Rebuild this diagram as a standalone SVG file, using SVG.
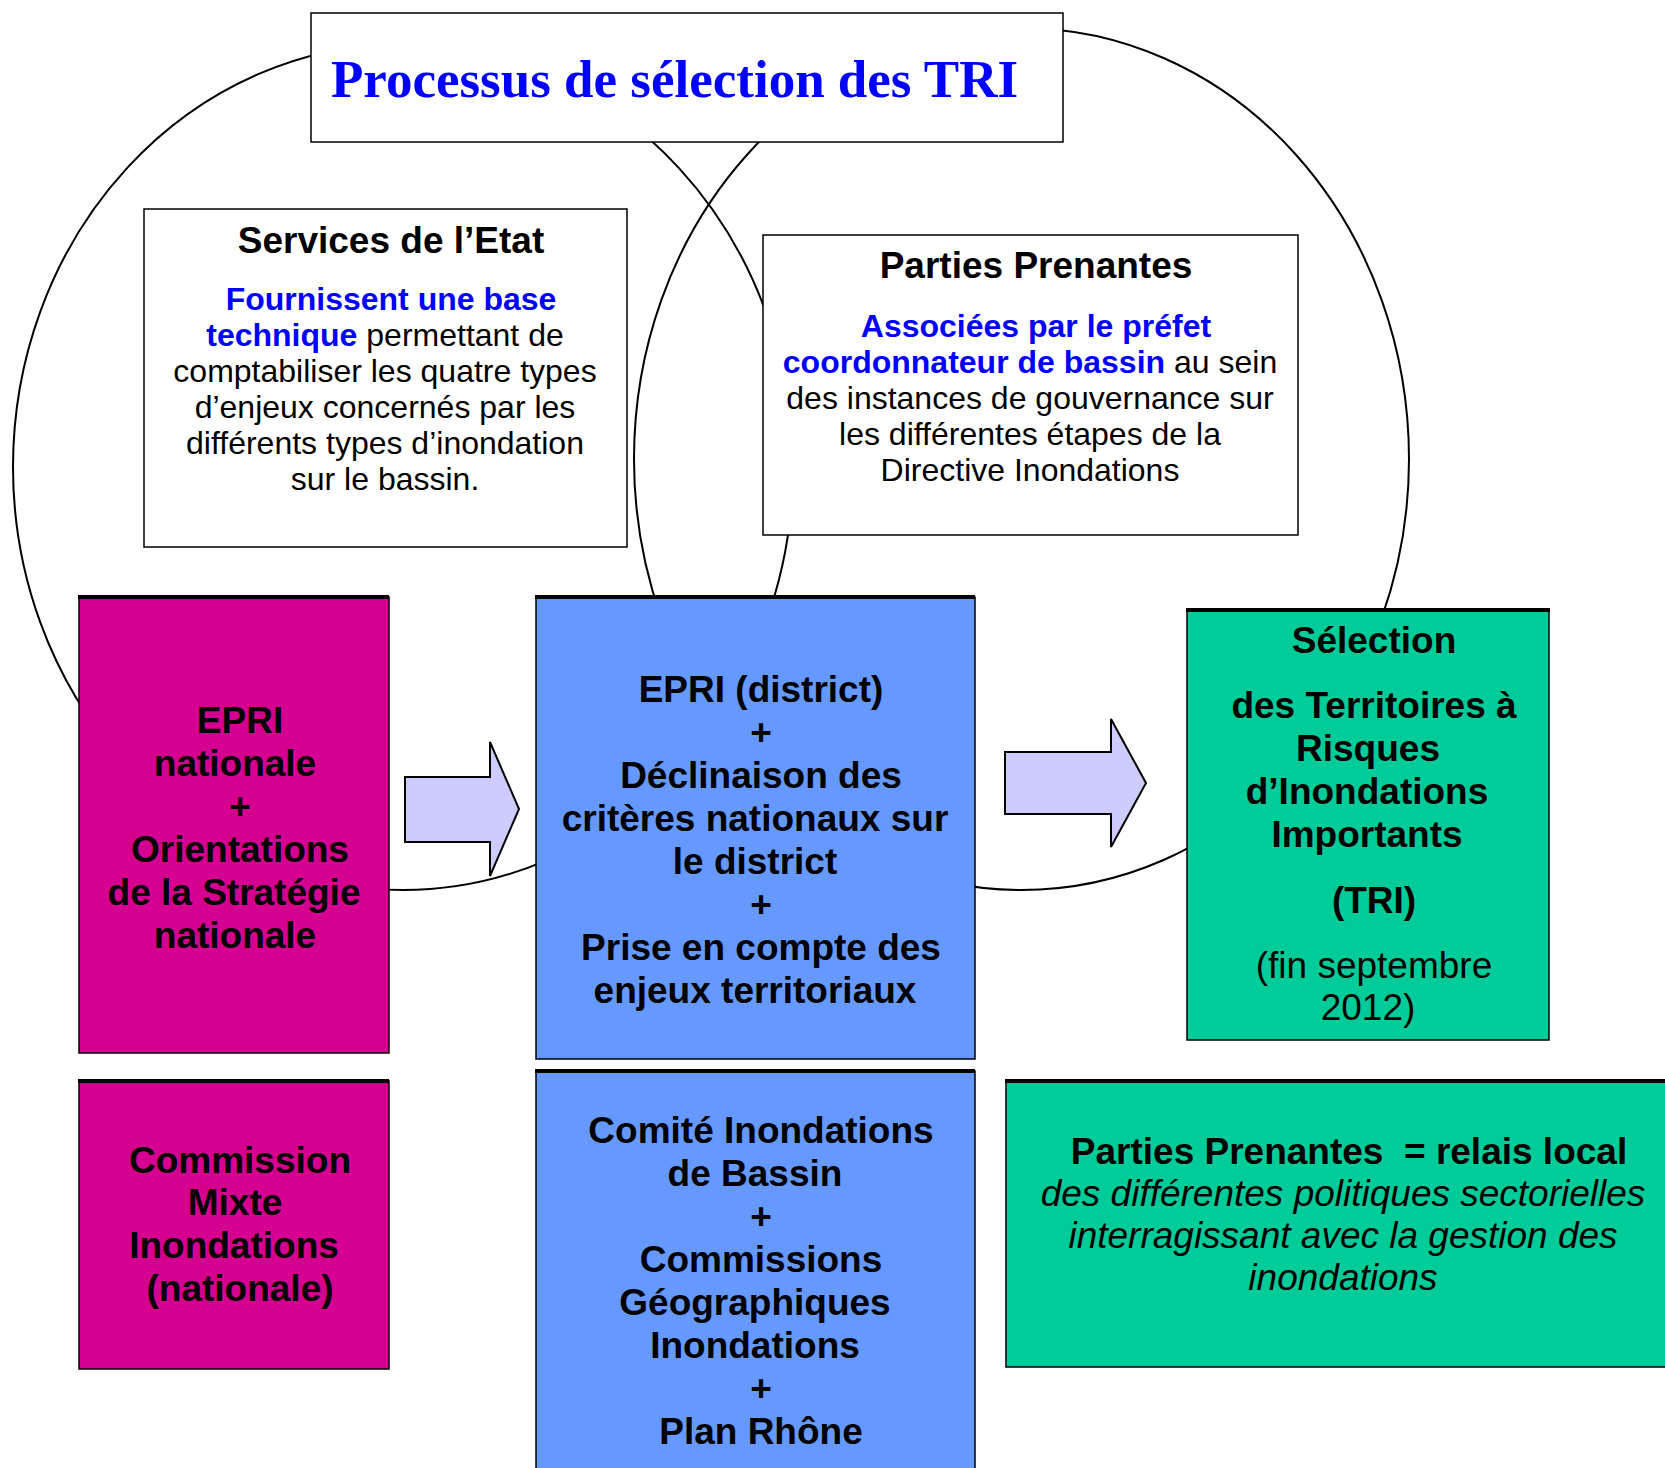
<svg xmlns="http://www.w3.org/2000/svg" width="1665" height="1468" viewBox="0 0 1665 1468">
<style>
.bg{fill:#ffffff}
.ell{fill:none;stroke:#000;stroke-width:2}
.wbox{fill:#fff;stroke:#000;stroke-width:1.5}
.mag{fill:#D5008F;stroke:#000;stroke-width:1.5}
.blu{fill:#6699FF;stroke:#000;stroke-width:1.5}
.grn{fill:#00CC99;stroke:#000;stroke-width:1.5}
.top{stroke:#000;stroke-width:4}
.arr{fill:#CCCCFF;stroke:#000;stroke-width:2;stroke-linejoin:miter}
text{font-family:"Liberation Sans",Arial,sans-serif;fill:#000;text-anchor:middle}
.title{font-family:"Liberation Serif","Times New Roman",serif;font-weight:bold;font-size:53px;fill:#0000FF;text-anchor:start}
.h{font-weight:bold;font-size:37px}
.b{font-size:32px}
.bb{font-weight:bold;fill:#0000FF}
.big{font-weight:bold;font-size:37px}
.reg{font-size:37px}
.it{font-style:italic;font-size:37px}
</style>
<rect class="bg" x="0" y="0" width="1665" height="1468"/>
<g id="connectors">
<ellipse class="ell" cx="403" cy="467" rx="390" ry="423"/>
<ellipse class="ell" cx="1021.5" cy="459" rx="387.5" ry="431"/>
</g>
<g id="title">
<rect class="wbox" x="311" y="13" width="752" height="129"/>
<text class="title" x="331" y="97">Processus de sélection des TRI</text>
</g>
<g id="services">
<rect class="wbox" x="144" y="209" width="483" height="338"/>
<text class="h" x="391" y="253">Services de l’Etat</text>
<text class="b" x="391" y="310"><tspan class="bb">Fournissent une base</tspan></text>
<text class="b" x="385" y="346"><tspan class="bb">technique</tspan> permettant de</text>
<text class="b" x="385" y="382">comptabiliser les quatre types</text>
<text class="b" x="385" y="418">d’enjeux concernés par les</text>
<text class="b" x="385" y="454">différents types d’inondation</text>
<text class="b" x="385" y="490">sur le bassin.</text>
</g>
<g id="parties">
<rect class="wbox" x="763" y="235" width="535" height="300"/>
<text class="h" x="1036" y="278">Parties Prenantes</text>
<text class="b" x="1036" y="337"><tspan class="bb">Associées par le préfet</tspan></text>
<text class="b" x="1030" y="373"><tspan class="bb">coordonnateur de bassin</tspan> au sein</text>
<text class="b" x="1030" y="409">des instances de gouvernance sur</text>
<text class="b" x="1030" y="445">les différentes étapes de la</text>
<text class="b" x="1030" y="481">Directive Inondations</text>
</g>
<g id="arrow1">
<polygon class="arr" points="405,777 490,777 490,742 519,809 490,876 490,842 405,842"/>
</g>
<g id="arrow2">
<polygon class="arr" points="1005,752 1111,752 1111,719 1146,783 1111,847 1111,814 1005,814"/>
</g>
<g id="epri-nationale">
<rect class="mag" x="79" y="597" width="310" height="456"/>
<line class="top" x1="78" y1="597" x2="389" y2="597"/>
<text class="big" x="240" y="733">EPRI</text>
<text class="big" x="235" y="776">nationale</text>
<text class="big" x="240" y="819">+</text>
<text class="big" x="240" y="862">Orientations</text>
<text class="big" x="234" y="905">de la Stratégie</text>
<text class="big" x="235" y="948">nationale</text>
</g>
<g id="epri-district">
<rect class="blu" x="536" y="597" width="439" height="462"/>
<line class="top" x1="535" y1="597" x2="975" y2="597"/>
<text class="big" x="761" y="702">EPRI (district)</text>
<text class="big" x="761" y="745">+</text>
<text class="big" x="761" y="788">Déclinaison des</text>
<text class="big" x="755" y="831">critères nationaux sur</text>
<text class="big" x="755" y="874">le district</text>
<text class="big" x="761" y="917">+</text>
<text class="big" x="761" y="960">Prise en compte des</text>
<text class="big" x="755" y="1003">enjeux territoriaux</text>
</g>
<g id="selection">
<rect class="grn" x="1187" y="610" width="362" height="430"/>
<line class="top" x1="1186" y1="610" x2="1550" y2="610"/>
<text class="big" x="1374" y="653">Sélection</text>
<text class="big" x="1374" y="718">des Territoires à</text>
<text class="big" x="1368" y="761">Risques</text>
<text class="big" x="1367" y="804">d’Inondations</text>
<text class="big" x="1367" y="847">Importants</text>
<text class="big" x="1374" y="913">(TRI)</text>
<text class="reg" x="1374" y="978">(fin septembre</text>
<text class="reg" x="1368" y="1020">2012)</text>
</g>
<g id="commission-mixte">
<rect class="mag" x="79" y="1081" width="310" height="288"/>
<line class="top" x1="78" y1="1081" x2="389" y2="1081"/>
<text class="big" x="240" y="1173">Commission</text>
<text class="big" x="235" y="1215">Mixte</text>
<text class="big" x="234" y="1258">Inondations</text>
<text class="big" x="240" y="1301">(nationale)</text>
</g>
<g id="comite">
<rect class="blu" x="536" y="1071" width="439" height="420"/>
<line class="top" x1="535" y1="1071" x2="975" y2="1071"/>
<text class="big" x="761" y="1143">Comité Inondations</text>
<text class="big" x="755" y="1186">de Bassin</text>
<text class="big" x="761" y="1229">+</text>
<text class="big" x="761" y="1272">Commissions</text>
<text class="big" x="755" y="1315">Géographiques</text>
<text class="big" x="755" y="1358">Inondations</text>
<text class="big" x="761" y="1401">+</text>
<text class="big" x="761" y="1444">Plan Rhône</text>
</g>
<g id="relais">
<rect class="grn" x="1006" y="1081" width="680" height="286"/>
<line class="top" x1="1005" y1="1081" x2="1665" y2="1081"/>
<text class="big" x="1349" y="1164" xml:space="preserve">Parties Prenantes  = relais local</text>
<text class="it" x="1343" y="1206">des différentes politiques sectorielles</text>
<text class="it" x="1343" y="1248">interragissant avec la gestion des</text>
<text class="it" x="1343" y="1290">inondations</text>
</g>
</svg>
